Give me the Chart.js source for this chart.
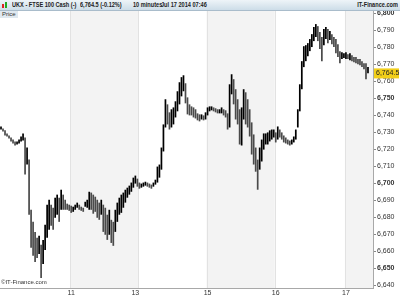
<!DOCTYPE html>
<html>
<head>
<meta charset="utf-8">
<title>UKX 10 minutes</title>
<script src="https://cdn.jsdelivr.net/npm/chart.js@4.4.1/dist/chart.umd.min.js"></script>
<style>
body{ margin:0; background:#fff; font-family:"Liberation Sans", Arial, sans-serif; }
#wrap{ position:relative; width:400px; height:300px; }
#head{
  position:absolute; left:0; top:0; width:400px; height:10px;
  background:linear-gradient(#eef4f8, #cddde8);
  border-bottom:1px solid #a9bccb;
  font-size:7px; font-weight:bold; color:#222; line-height:10px;
}
#head span{ position:absolute; top:0; white-space:nowrap; transform:scaleX(0.8); transform-origin:left center; }
#head span.r{ transform-origin:right center; }
#price{
  position:absolute; left:0; top:11px; height:7px; padding:0 2px;
  background:#dfe8ef; font-size:6px; line-height:7px; color:#333;
}
#copy{ position:absolute; left:1px; top:279px; font-size:6px; color:#333; }
.ico{ position:absolute; top:3px; width:2px; height:5px; }
</style>
</head>
<body>
<div id="wrap">
  <canvas id="chart" width="400" height="300"></canvas>
  <div id="head">
    <div class="ico" style="left:2px;background:#d22;top:4px;height:4px"></div>
    <div class="ico" style="left:5px;background:#2a2;top:2px;height:6px"></div>
    <span style="left:12px">UKX - FTSE 100 Cash (-)</span>
    <span style="left:80px">6,764.5 (-0.12%)</span>
    <span style="left:133px">10 minutes</span>
    <span style="left:161px">Jul 17 2014 07:46</span>
    <span class="r" style="right:2px">IT-Finance.com</span>
  </div>
  <div id="price">Price</div>
  <div id="copy">&copy;IT-Finance.com</div>
</div>

<script>
// 10 minute bars, high / low
var highs = [
  6733.3, 6732.1, 6731.0, 6729.2, 6728.0, 6726.8, 6725.6, 6724.5, 6724.5, 6725.6,
  6727.4, 6729.2, 6726.8, 6720.9, 6713.8, 6684.3, 6677.2, 6671.3, 6667.8, 6669.0,
  6663.7, 6666.6, 6675.5, 6687.3, 6690.2, 6687.3, 6685.5, 6691.4, 6693.2, 6691.4,
  6696.1, 6693.2, 6690.2, 6687.9, 6687.3, 6686.7, 6686.1, 6687.3, 6688.5, 6687.3,
  6686.1, 6685.5, 6689.0, 6690.2, 6694.9, 6694.4, 6693.2, 6692.0, 6690.2, 6688.5,
  6690.2, 6687.3, 6685.5, 6681.4, 6684.3, 6678.4, 6677.2, 6684.3, 6688.5, 6691.4,
  6693.2, 6694.4, 6696.1, 6697.3, 6698.5, 6700.3, 6703.2, 6704.4, 6702.6, 6700.3,
  6699.7, 6700.3, 6700.8, 6700.3, 6699.7, 6699.1, 6700.3, 6702.0, 6709.7, 6710.9,
  6720.9, 6734.5, 6749.3, 6746.3, 6741.6, 6743.4, 6744.5, 6748.1, 6754.0, 6759.3,
  6762.3, 6763.4, 6758.7, 6750.4, 6746.3, 6745.1, 6744.5, 6743.4, 6741.0, 6740.4,
  6740.4, 6739.8, 6741.6, 6744.5, 6745.1, 6745.1, 6744.5, 6744.0, 6743.4, 6743.4,
  6744.5, 6743.4, 6742.8, 6741.0, 6758.1, 6764.0, 6761.1, 6755.2, 6749.3, 6743.4,
  6744.5, 6755.2, 6753.4, 6749.3, 6743.4, 6735.7, 6728.6, 6720.9, 6713.8, 6720.9,
  6725.6, 6729.2, 6729.2, 6729.8, 6731.0, 6731.5, 6731.5, 6729.8, 6733.3, 6731.5,
  6729.8, 6728.0, 6726.8, 6725.6, 6725.0, 6725.6, 6727.4, 6731.5, 6743.4, 6758.1,
  6771.7, 6780.5, 6781.1, 6782.3, 6784.7, 6787.6, 6791.8, 6793.5, 6792.3, 6788.8,
  6785.9, 6790.6, 6791.8, 6790.6, 6789.4, 6787.6, 6785.9, 6784.7, 6781.7, 6777.6,
  6777.0, 6776.4, 6777.0, 6775.8, 6776.4, 6775.2, 6774.1, 6774.1, 6772.9, 6772.9,
  6771.7, 6770.5, 6770.5, 6768.2
];
var lows = [
  6731.5, 6730.4, 6728.0, 6727.4, 6726.2, 6724.5, 6723.3, 6722.1, 6722.7, 6723.3,
  6724.5, 6725.0, 6705.0, 6710.9, 6681.4, 6661.9, 6657.2, 6653.6, 6656.0, 6658.3,
  6644.2, 6652.4, 6660.7, 6667.8, 6672.5, 6674.9, 6672.5, 6679.6, 6681.4, 6677.2,
  6684.3, 6684.3, 6684.3, 6684.3, 6683.7, 6682.5, 6683.1, 6684.3, 6685.5, 6684.3,
  6683.7, 6683.1, 6686.1, 6685.5, 6684.3, 6684.3, 6682.0, 6683.1, 6679.6, 6678.4,
  6681.4, 6671.3, 6669.6, 6666.6, 6669.6, 6664.8, 6663.1, 6671.3, 6677.2, 6681.4,
  6682.5, 6685.5, 6688.5, 6691.4, 6693.2, 6694.9, 6697.3, 6699.7, 6697.9, 6696.7,
  6697.3, 6697.9, 6698.5, 6697.9, 6697.3, 6696.7, 6697.9, 6699.1, 6700.3, 6703.2,
  6707.9, 6718.6, 6732.7, 6734.5, 6731.5, 6732.7, 6734.5, 6738.6, 6742.2, 6746.3,
  6751.0, 6754.0, 6746.9, 6740.4, 6739.8, 6739.8, 6738.6, 6738.0, 6736.9, 6736.3,
  6737.4, 6736.9, 6737.4, 6739.8, 6742.2, 6742.8, 6742.2, 6741.6, 6741.0, 6741.0,
  6741.0, 6739.8, 6738.6, 6731.5, 6732.7, 6752.2, 6746.3, 6737.4, 6734.5, 6722.7,
  6722.1, 6737.4, 6734.5, 6732.7, 6727.4, 6716.8, 6710.9, 6706.7, 6696.1, 6707.9,
  6712.7, 6719.7, 6722.7, 6722.7, 6724.5, 6725.6, 6726.8, 6723.9, 6725.6, 6726.8,
  6725.6, 6723.9, 6723.3, 6722.7, 6722.1, 6722.7, 6723.9, 6725.6, 6732.7, 6742.2,
  6755.2, 6768.2, 6771.7, 6774.6, 6777.6, 6780.0, 6783.5, 6785.9, 6783.5, 6778.8,
  6771.7, 6781.1, 6784.7, 6782.3, 6784.1, 6781.7, 6780.0, 6776.4, 6774.1, 6770.5,
  6772.9, 6773.5, 6772.9, 6772.9, 6772.3, 6771.7, 6771.1, 6770.5, 6769.9, 6769.3,
  6768.2, 6767.0, 6761.1, 6764.6
];
var lastPrice = 6764.5;

// x axis: day labels and where each session starts (bar index)
var slotCount = 186;
var dayLabels = ["11", "13", "15", "16", "17"];
var dayLabelIdx = [35, 67, 103, 137, 172];
var dayStart = [35, 69, 103, 137, 172];

var yMin = 6638.3, yMax = 6801.2;

var labels = [];
for (var i = 0; i < slotCount; i++) labels.push("");
for (var j = 0; j < dayLabels.length; j++) labels[dayLabelIdx[j]] = dayLabels[j];

var bars = [];
for (var k = 0; k < highs.length; k++) bars.push([lows[k], highs[k]]);

function barColor(ctx){
  var i = ctx.dataIndex;
  if (i === 0) return "#000";
  var mid = (highs[i] + lows[i]) / 2, prev = (highs[i-1] + lows[i-1]) / 2;
  return mid >= prev ? "#000" : "#4a4a4a";
}

// alternating day shading + separators, last price tag
var dayBands = {
  id: "dayBands",
  beforeDatasetsDraw: function(chart){
    var c = chart.ctx, a = chart.chartArea, xs = chart.scales.x;
    var half = (xs.getPixelForValue(1) - xs.getPixelForValue(0)) / 2;
    c.save();
    for (var d = 0; d < dayStart.length; d++){
      var x0 = xs.getPixelForValue(dayStart[d]) - half;
      var x1 = d + 1 < dayStart.length ? xs.getPixelForValue(dayStart[d+1]) - half : a.right;
      if (d % 2 === 0){
        c.fillStyle = "#f3f3f3";
        c.fillRect(x0, a.top, x1 - x0, a.bottom - a.top);
      }
      c.strokeStyle = "#e2e2e2";
      c.lineWidth = 1;
      c.beginPath();
      c.moveTo(Math.round(x0) + 0.5, a.top);
      c.lineTo(Math.round(x0) + 0.5, a.bottom);
      c.stroke();
    }
    c.restore();
  },
  afterDraw: function(chart){
    var c = chart.ctx, a = chart.chartArea, ys = chart.scales.y;
    var y = ys.getPixelForValue(lastPrice);
    c.save();
    c.fillStyle = "#f2cf1a";
    c.fillRect(a.right + 1, y - 5, 25, 10);
    c.fillStyle = "#222";
    c.font = "7px 'Liberation Sans', Arial";
    c.textBaseline = "middle";
    c.fillText(lastPrice.toLocaleString("en-US", {minimumFractionDigits: 1}), a.right + 3, y);
    c.restore();
  }
};

new Chart(document.getElementById("chart").getContext("2d"), {
  type: "bar",
  data: {
    labels: labels,
    datasets: [{
      label: "Price",
      data: bars,
      backgroundColor: barColor,
      borderWidth: 0,
      barPercentage: 1,
      categoryPercentage: 0.85
    }]
  },
  options: {
    responsive: false,
    animation: false,
    layout: { padding: { top: 11, left: 0, right: 0, bottom: 0 } },
    plugins: { legend: { display: false }, tooltip: { enabled: false } },
    scales: {
      x: {
        grid: { display: false, drawTicks: false },
        border: { display: true, color: "#a8a8a8" },
        ticks: {
          autoSkip: false, maxRotation: 0, padding: 1,
          color: "#333", font: { size: 7, family: "'Liberation Sans', Arial" }
        },
        afterFit: function(s){ s.height = 12; }
      },
      y: {
        position: "right",
        min: yMin, max: yMax,
        grid: { drawOnChartArea: false, tickLength: 3, color: "#888" },
        border: { display: true, color: "#a8a8a8" },
        ticks: {
          stepSize: 10, includeBounds: false, padding: 1, color: "#333",
          font: function(ctx){
            var v = ctx.tick ? ctx.tick.value : 0;
            return { size: 7, family: "'Liberation Sans', Arial", weight: (Math.round(v) % 50 === 0) ? "bold" : "normal" };
          },
          callback: function(v){ return Number(v).toLocaleString("en-US"); }
        },
        afterFit: function(s){ s.width = 27; }
      }
    }
  },
  plugins: [dayBands]
});
</script>
</body>
</html>
